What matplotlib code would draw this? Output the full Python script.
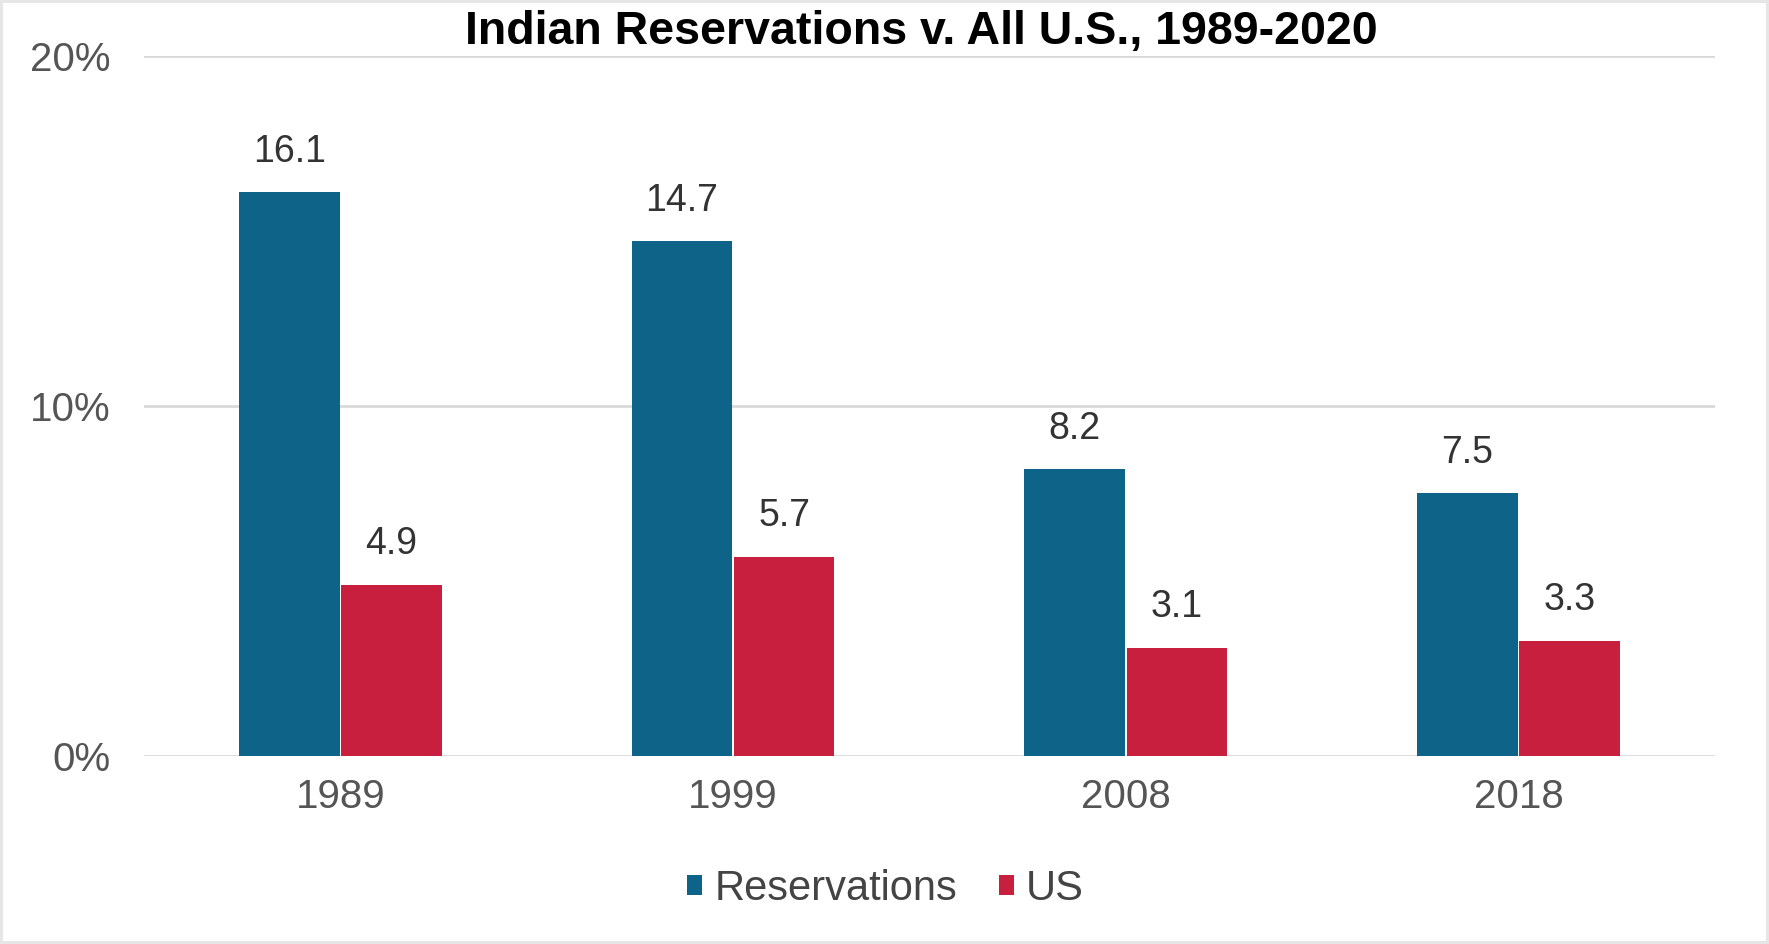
import matplotlib.pyplot as plt
import numpy as np

# data
years = ['1989', '1999', '2008', '2018']
reservations = [16.1, 14.7, 8.2, 7.5]
us = [4.9, 5.7, 3.1, 3.3]
ytick_vals = [0, 10, 20]
ytick_labels = ['0%', '10%', '20%']

blue = '#0d6388'
red = '#c91f3e'
grey = '#555555'

plt.rcParams['font.family'] = ['Liberation Sans', 'DejaVu Sans']

fig = plt.figure(figsize=(17.69, 9.44), dpi=100)
ax = fig.add_axes([0.0814, 0.199, 0.888, 0.742])

x = np.arange(len(years))
w = 0.256
b1 = ax.bar(x - w / 2 - 0.002, reservations, w, color=blue, label='Reservations')
b2 = ax.bar(x + w / 2 + 0.002, us, w, color=red, label='US')

# value labels above the bars
for bars, vals in ((b1, reservations), (b2, us)):
    for r, v in zip(bars, vals):
        ax.annotate(f'{v}', (r.get_x() + r.get_width() / 2, v),
                    xytext=(0, 16), textcoords='offset points',
                    ha='center', va='bottom', fontsize=27, color='#333333')

ax.set_xlim(-0.5, 3.5)
ax.set_ylim(0, 20)
ax.set_xticks(x)
ax.set_xticklabels(years, fontsize=29, color=grey)
ax.set_yticks(ytick_vals)
ax.set_yticklabels(ytick_labels, fontsize=29, color=grey)
ax.tick_params(length=0)
ax.tick_params(axis='x', pad=16)
ax.tick_params(axis='y', pad=24)
ax.yaxis.grid(True, color='#d9d9d9', linewidth=2)
ax.set_axisbelow(True)
for s in ax.spines.values():
    s.set_visible(False)

leg = ax.legend(loc='upper center', bbox_to_anchor=(0.472, -0.108), ncol=2,
                frameon=False, fontsize=30, handlelength=0.36, handleheight=0.36,
                handletextpad=0.3, columnspacing=1.0, labelcolor='#444444')

fig.text(0.5206, 0.966, 'Indian Reservations v. All U.S., 1989-2020',
         ha='center', va='center', fontsize=33.5, fontweight='bold')

fig.patch.set_edgecolor('#e6e6e6')
fig.patch.set_linewidth(3)

fig.savefig('out.png', dpi=100, edgecolor=fig.get_edgecolor())
